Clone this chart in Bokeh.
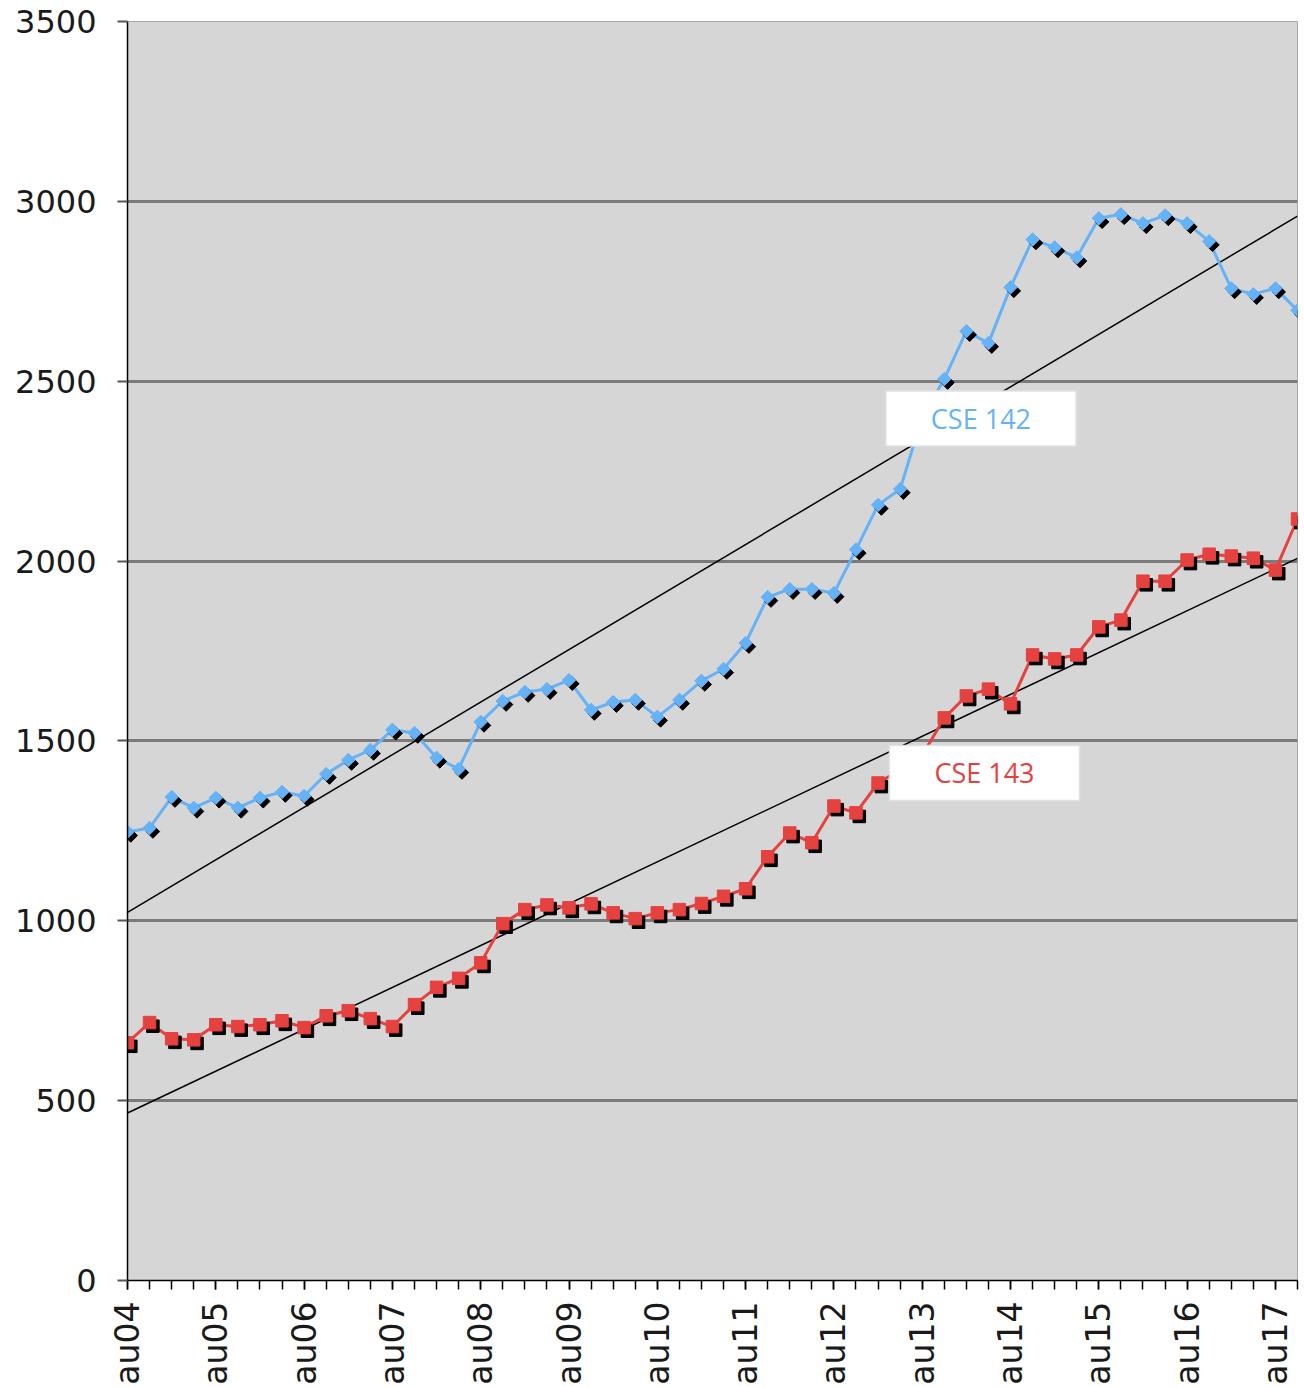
from math import pi

import numpy as np
from bokeh.embed import file_html
from bokeh.models import ColumnDataSource, FixedTicker, Label, Range1d
from bokeh.plotting import figure
from bokeh.resources import INLINE
from bokeh.transform import dodge

# Quarterly enrollment, autumn 2004 through winter 2018 (one value per quarter)
year_labels = ["au04", "au05", "au06", "au07", "au08", "au09", "au10",
               "au11", "au12", "au13", "au14", "au15", "au16", "au17"]

cse142 = [1247, 1258, 1344, 1314, 1342, 1314, 1342, 1358, 1347, 1408,
          1447, 1475, 1531, 1522, 1453, 1422, 1553, 1611, 1636, 1644,
          1669, 1586, 1608, 1614, 1567, 1614, 1667, 1700, 1772, 1900,
          1922, 1922, 1911, 2032, 2156, 2200, 2400, 2506, 2639, 2606,
          2761, 2894, 2872, 2844, 2953, 2964, 2939, 2961, 2939, 2889,
          2758, 2742, 2758, 2697]

cse143 = [661, 717, 672, 669, 711, 706, 711, 722, 703, 736,
          750, 728, 706, 767, 815, 840, 883, 992, 1031, 1044,
          1036, 1047, 1022, 1006, 1022, 1031, 1048, 1068, 1089, 1178,
          1244, 1217, 1319, 1300, 1383, 1420, 1460, 1564, 1625, 1644,
          1603, 1739, 1728, 1739, 1817, 1836, 1944, 1944, 2003, 2019,
          2014, 2008, 1975, 2117]

quarter = list(range(len(cse142)))

BLUE = "#66b2f7"
RED = "#e5413f"
TICK_FONT = "DejaVu Sans"

p = figure(width=1304, height=1387, output_backend="svg", toolbar_location=None,
           x_range=Range1d(0, len(quarter) - 1), y_range=Range1d(0, 3500),
           min_border_left=127, min_border_right=7,
           min_border_top=21, min_border_bottom=107)

p.background_fill_color = "#d6d6d6"
p.border_fill_color = "white"
p.outline_line_color = "#a8a8a8"
p.outline_line_width = 1

# horizontal gridlines every 500
y_ticks = list(range(0, 3501, 500))
p.xgrid.visible = False
p.ygrid.ticker = FixedTicker(ticks=y_ticks)
p.ygrid.grid_line_color = "#7a7a7a"
p.ygrid.grid_line_width = 3

# y axis
p.yaxis.ticker = FixedTicker(ticks=y_ticks)
p.yaxis.axis_line_color = "black"
p.yaxis.axis_line_width = 1.5
p.yaxis.major_tick_out = 10
p.yaxis.major_tick_in = 0
p.yaxis.major_tick_line_color = "#555555"
p.yaxis.major_tick_line_width = 2
p.yaxis.minor_tick_line_color = None
p.yaxis.major_label_standoff = 21
p.yaxis.major_label_text_font = TICK_FONT
p.yaxis.major_label_text_font_size = "32px"
p.yaxis.major_label_text_color = "#1a1a1a"

# x axis: a tick per quarter, a label each autumn
au_ticks = quarter[::4]
p.xaxis.ticker = FixedTicker(ticks=au_ticks, minor_ticks=quarter)
p.xaxis.major_label_overrides = {t: lbl for t, lbl in zip(au_ticks, year_labels)}
p.xaxis.axis_line_color = "black"
p.xaxis.axis_line_width = 1.5
p.xaxis.major_tick_out = 9
p.xaxis.major_tick_in = 0
p.xaxis.minor_tick_out = 9
p.xaxis.minor_tick_in = 0
p.xaxis.major_tick_line_color = "black"
p.xaxis.minor_tick_line_color = "black"
p.xaxis.major_tick_line_width = 1.5
p.xaxis.minor_tick_line_width = 1.5
p.xaxis.major_label_orientation = pi / 2
p.xaxis.major_label_standoff = 12
p.xaxis.major_label_text_font = TICK_FONT
p.xaxis.major_label_text_font_size = "33px"
p.xaxis.major_label_text_color = "#1a1a1a"

# linear trend lines fitted to each course
ends = [quarter[0], quarter[-1]]
for series in (cse142, cse143):
    coef = np.polyfit(quarter, series, 1)
    p.line(ends, list(np.polyval(coef, ends)), line_color="black", line_width=1.5)


def draw_series(values, color, marker, angle, size):
    src = ColumnDataSource(data=dict(x=quarter, y=values))
    p.line("x", "y", source=src, line_color=color, line_width=3)
    # drop shadow under each marker
    p.scatter(x=dodge("x", 0.15), y=dodge("y", -10), source=src, marker=marker,
              angle=angle, size=size, fill_color="black", line_color="black")
    p.scatter("x", "y", source=src, marker=marker, angle=angle, size=size,
              fill_color=color, line_color=color)


draw_series(cse142, BLUE, "square", pi / 4, 9.5)
draw_series(cse143, RED, "square", 0, 12.5)

# series name boxes
for name, color, bx, by in (("CSE 142", BLUE, 38.66, 2396),
                            ("CSE 143", RED, 38.82, 1411)):
    p.rect(x=[bx], y=[by], width=190, height=55, width_units="screen",
           height_units="screen", fill_color="white", line_color="#e2e2e2",
           line_width=1.5)
    p.add_layout(Label(x=bx, y=by, text=name, text_align="center",
                       text_baseline="middle", text_color=color,
                       text_font="Open Sans", text_font_size="27px"))

open("out.html", "w").write(file_html(p, INLINE))
